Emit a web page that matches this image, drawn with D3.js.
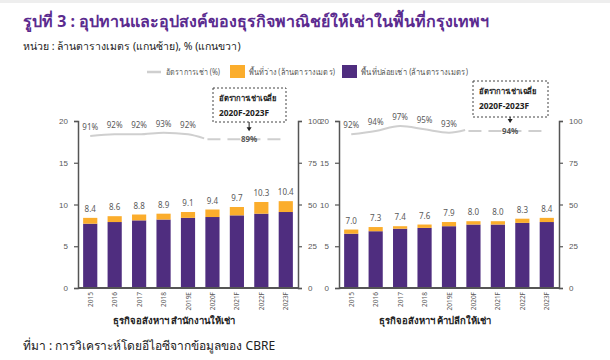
<!DOCTYPE html>
<html><head><meta charset="utf-8">
<script src="https://cdn.jsdelivr.net/npm/d3@7/dist/d3.min.js"></script>
<style>
html,body{margin:0;padding:0;background:#fff;}
svg{display:block;font-family:"Noto Sans","DejaVu Sans",sans-serif;}
</style></head>
<body>
<svg id="c" width="610" height="360"></svg>
<script>
const categories = ["2015","2016","2017","2018","2019E","2020F","2021F","2022F","2023F"];
const officeLeased = [7.7,7.9,8.1,8.2,8.4,8.5,8.7,8.9,9.1];
const officeVacant = [0.7,0.7,0.7,0.7,0.7,0.9,1.0,1.4,1.3];
const officeTotals = [8.4,8.6,8.8,8.9,9.1,9.4,9.7,10.3,10.4];
const officeRate = [91,92,92,93,92];
const officeAvg = 89;
const retailLeased = [6.5,6.8,7.1,7.2,7.4,7.6,7.6,7.8,7.9];
const retailVacant = [0.5,0.5,0.3,0.4,0.5,0.4,0.4,0.5,0.5];
const retailTotals = [7.0,7.3,7.4,7.6,7.9,8.0,8.0,8.3,8.4];
const retailRate = [92,94,97,95,93];
const retailAvg = 94;
const leftTicks = [0,5,10,15,20];
const rightTicks = [0,25,50,75,100];

const title = "รูปที่ 3 : อุปทานและอุปสงค์ของธุรกิจพาณิชย์ให้เช่าในพื้นที่กรุงเทพฯ";
const subtitle = "หน่วย : ล้านตารางเมตร (แกนซ้าย), % (แกนขวา)";
const source = "ที่มา : การวิเคราะห์โดยอีไอซีจากข้อมูลของ CBRE";
const legendLabels = ["อัตราการเช่า (%)","พื้นที่ว่าง (ล้านตารางเมตร)","พื้นที่ปล่อยเช่า (ล้านตารางเมตร)"];
const calloutLines = ["อัตราการเช่าเฉลี่ย","2020F-2023F"];
const panelTitles = ["ธุรกิจอสังหาฯ สำนักงานให้เช่า","ธุรกิจอสังหาฯ ค้าปลีกให้เช่า"];

const PURPLE = "#4f2d7f", ORANGE = "#fbad2c", LINE = "#cfcfcf", AXIS = "#555", TXT = "#595959";
const svg = d3.select("#c");

svg.append("line").attr("x1",0).attr("x2",610).attr("y1",1.5).attr("y2",1.5).attr("stroke","#eee").attr("stroke-width",3);

svg.append("text").attr("x",23).attr("y",27).attr("fill","#5b2b8f").attr("font-size",16).attr("font-weight","bold").text(title);
svg.append("text").attr("x",23).attr("y",50).attr("fill","#222").attr("font-size",10.5).text(subtitle);
svg.append("text").attr("x",23).attr("y",350).attr("fill","#222").attr("font-size",12).text(source);

// legend
const lg = svg.append("g").attr("font-size",8.5).attr("fill",TXT);
lg.append("line").attr("x1",147).attr("x2",161).attr("y1",72).attr("y2",72).attr("stroke",LINE).attr("stroke-width",2.5);
lg.append("text").attr("x",166).attr("y",75).attr("fill",TXT).attr("textLength",54).attr("lengthAdjust","spacingAndGlyphs").text(legendLabels[0]);
lg.append("rect").attr("x",230).attr("y",65).attr("width",15).attr("height",13).attr("fill",ORANGE);
lg.append("text").attr("x",249).attr("y",75).attr("fill",TXT).attr("textLength",86).attr("lengthAdjust","spacingAndGlyphs").text(legendLabels[1]);
lg.append("rect").attr("x",342).attr("y",65).attr("width",15).attr("height",13).attr("fill",PURPLE);
lg.append("text").attr("x",361).attr("y",75).attr("fill",TXT).attr("textLength",107).attr("lengthAdjust","spacingAndGlyphs").text(legendLabels[2]);

function panel(cfg){
  const {x0,x1,leased,vacant,totals,rate,avg,ptitle,box} = cfg;
  const yTop=121, yBot=288;
  const x = d3.scaleBand().domain(categories).range([x0,x1]).paddingInner(0.42).paddingOuter(0.21);
  const y = d3.scaleLinear().domain([0,20]).range([yBot,yTop]);
  const yr = d3.scaleLinear().domain([0,100]).range([yBot,yTop]);
  const g = svg.append("g");
  const step = x.step();

  // bars
  const data = categories.map((c,i)=>({c,l:leased[i],v:vacant[i],t:totals[i]}));
  g.selectAll(".bl").data(data).join("rect").attr("x",d=>x(d.c)).attr("width",x.bandwidth())
    .attr("y",d=>y(d.l)).attr("height",d=>y(0)-y(d.l)).attr("fill",PURPLE);
  g.selectAll(".bv").data(data).join("rect").attr("x",d=>x(d.c)).attr("width",x.bandwidth())
    .attr("y",d=>y(d.l+d.v)).attr("height",d=>y(d.l)-y(d.l+d.v)).attr("fill",ORANGE);
  g.selectAll(".lbl").data(data).join("text").attr("x",d=>x(d.c)+x.bandwidth()/2).attr("y",d=>y(d.l+d.v)-6)
    .attr("text-anchor","middle").attr("font-size",8).attr("fill",TXT).text(d=>d.t.toFixed(1));

  // axes
  const axL = d3.axisLeft(y).tickValues(leftTicks).tickSize(4).tickPadding(6);
  const axR = d3.axisRight(yr).tickValues(rightTicks).tickSize(4).tickPadding(6);
  const gl = g.append("g").attr("transform",`translate(${x0},0)`).call(axL);
  const gr = g.append("g").attr("transform",`translate(${x1},0)`).call(axR);
  [gl,gr].forEach(a=>{
    a.select(".domain").attr("stroke",AXIS).attr("stroke-width",1.5);
    a.selectAll(".tick line").attr("stroke",AXIS).attr("stroke-width",1.2);
    a.selectAll(".tick text").attr("fill",TXT).attr("font-size",8).attr("font-family","inherit");
  });
  g.append("line").attr("x1",x0).attr("x2",x1).attr("y1",yBot).attr("y2",yBot).attr("stroke",AXIS).attr("stroke-width",2);

  // x tick labels
  g.selectAll(".xt").data(categories).join("text")
    .attr("transform",d=>`translate(${x(d)+x.bandwidth()/2+2.5},${yBot+4}) rotate(-90)`)
    .attr("text-anchor","end").attr("font-size",6.5).attr("fill",TXT).text(d=>d);

  g.append("text").attr("x",(x0+x1)/2-14).attr("y",324).attr("text-anchor","middle")
    .attr("font-size",9.5).attr("font-weight","bold").attr("fill","#222").text(ptitle);

  // line
  const cx = i=>x(categories[i])+x.bandwidth()/2;
  const pts = rate.map((r,i)=>[cx(i),yr(r)]);
  pts.push([x(categories[rate.length])-step*0.05,yr(avg+0.6)]);
  g.append("path").attr("d",d3.line().curve(d3.curveMonotoneX)(pts)).attr("fill","none")
    .attr("stroke",LINE).attr("stroke-width",2);
  g.selectAll(".rl").data(rate).join("text").attr("x",(d,i)=>cx(i)).attr("y",d=>yr(d)-6)
    .attr("text-anchor","middle").attr("font-size",8).attr("fill",TXT).text(d=>d+"%");
  const dx0 = cx(rate.length)-5, dx1 = cx(categories.length-1)-4;
  g.append("line").attr("x1",dx0).attr("x2",dx1).attr("y1",yr(avg)).attr("y2",yr(avg))
    .attr("stroke",LINE).attr("stroke-width",2).attr("stroke-dasharray","13,7");
  const mx = (cx(6)+cx(7))/2;
  g.append("text").attr("x",mx).attr("y",yr(avg)+3).attr("text-anchor","middle").attr("font-size",8)
    .attr("font-weight","bold").attr("fill",TXT).text(avg+"%");

  // callout
  const bx0 = box[0], by0 = box[1], bw = box[2], bh = box[3];
  g.append("rect").attr("x",bx0).attr("y",by0).attr("width",bw).attr("height",bh).attr("fill","#fff")
    .attr("stroke","#444").attr("stroke-width",1).attr("stroke-dasharray","2,2");
  g.append("text").attr("x",bx0+6).attr("y",by0+13).attr("font-size",8).attr("font-weight","bold").attr("fill","#222")
    .attr("textLength",58).attr("lengthAdjust","spacingAndGlyphs").text(calloutLines[0]);
  g.append("text").attr("x",bx0+6).attr("y",by0+28).attr("font-size",8).attr("font-weight","bold").attr("fill","#222")
    .attr("textLength",50).attr("lengthAdjust","spacingAndGlyphs").text(calloutLines[1]);
  g.append("line").attr("x1",mx).attr("x2",mx).attr("y1",by0+bh).attr("y2",yr(avg)-10).attr("stroke","#222").attr("stroke-width",1);
  g.append("path").attr("d",`M${mx-2.5},${yr(avg)-12} L${mx+2.5},${yr(avg)-12} L${mx},${yr(avg)-8} Z`).attr("fill","#222");
}

panel({x0:78,x1:298,leased:officeLeased,vacant:officeVacant,totals:officeTotals,rate:officeRate,avg:officeAvg,ptitle:panelTitles[0],box:[213,88,73,34]});
panel({x0:339,x1:559,leased:retailLeased,vacant:retailVacant,totals:retailTotals,rate:retailRate,avg:retailAvg,ptitle:panelTitles[1],box:[473,81,75,36]});
</script>
</body></html>
